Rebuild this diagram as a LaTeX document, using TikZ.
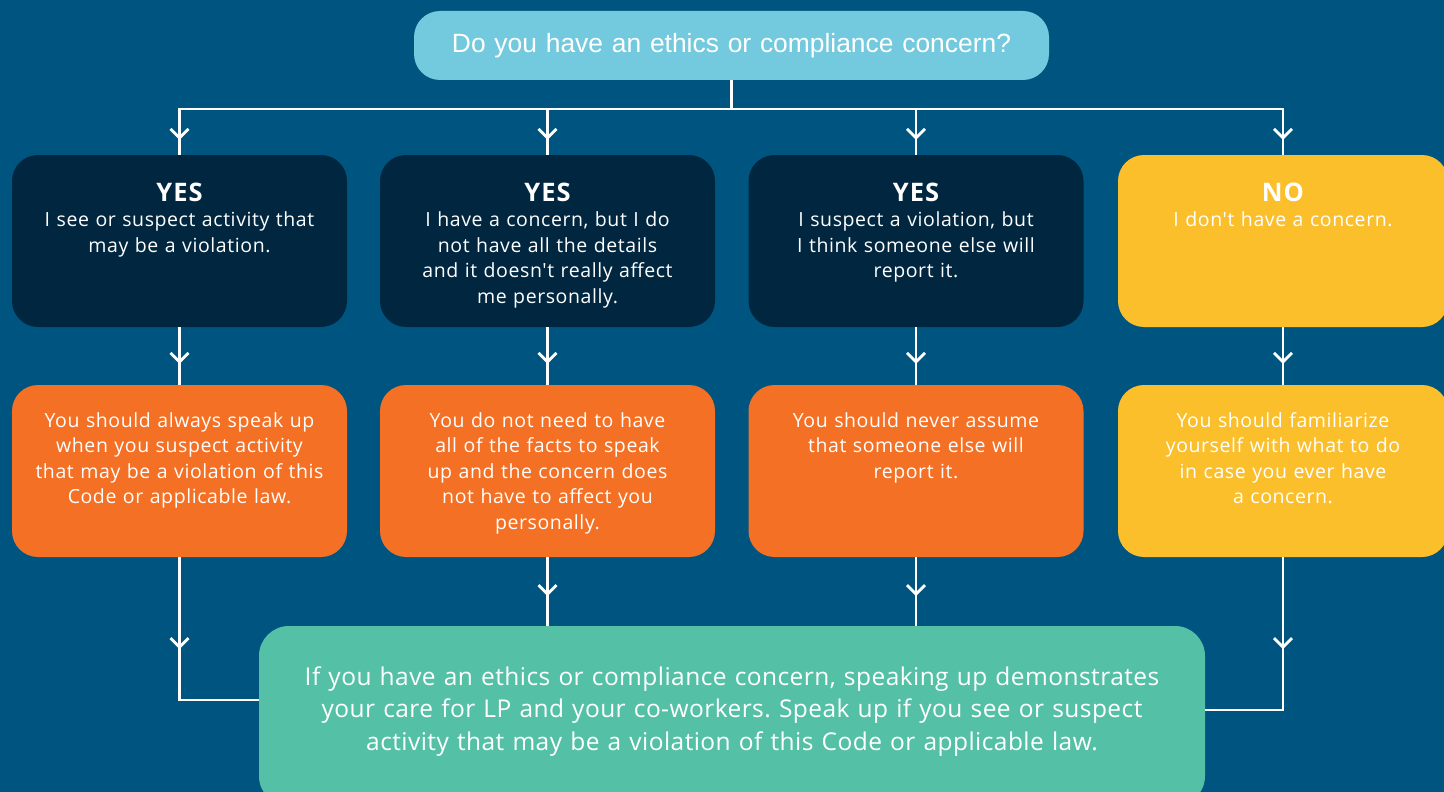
\documentclass[tikz,border=0pt]{standalone}
\usepackage{fontspec}
\setmainfont{Open Sans}[Ligatures=TeXOff]
\newfontfamily\topfont{Liberation Sans}[Ligatures=TeXOff]
\definecolor{bg}{RGB}{0,85,128}
\definecolor{navy}{RGB}{0,39,63}
\definecolor{lblue}{RGB}{115,201,221}
\definecolor{orng}{RGB}{244,112,36}
\definecolor{yell}{RGB}{251,191,44}
\definecolor{grn}{RGB}{84,193,166}
\newcommand\rowfont{\frenchspacing\fontsize{19.5}{25.6}\selectfont\addfontfeatures{LetterSpace=3}}
\newcommand\headfont{\fontsize{25.5}{26}\selectfont\bfseries\addfontfeatures{LetterSpace=4}}
\newcommand\finfont{\frenchspacing\fontsize{24.5}{32.5}\selectfont\addfontfeatures{LetterSpace=1.8}}
\begin{document}
\begin{tikzpicture}[x=1pt,y=-1pt,
  box/.style={rounded corners=26pt, minimum width=335pt, minimum height=172pt, inner sep=0pt, draw=none},
  conn/.style={white, line width=2.8pt},
  txt/.style={text=white, text width=330pt, align=center, anchor=base, inner sep=0pt, font=\rowfont},
  chev/.pic={\draw[conn] (-9,-9) -- (0,0) -- (9,-9);}]
\useasboundingbox (0,0) rectangle (1444,792);
\fill[bg] (0,0) rectangle (1444,792);
\coordinate (bus) at (0,109);
\coordinate (j1) at (259,700);
\coordinate (j4) at (1205,710);
% boxes
\node[box, fill=lblue, minimum width=635pt, minimum height=69pt] (q) at (731.5,45.5) {};
\node[box, fill=navy] (a1) at (179.5,241) {};
\node[box, fill=navy] (a2) at (547.5,241) {};
\node[box, fill=navy] (a3) at (916,241) {};
\node[box, fill=yell, minimum width=330pt] (a4) at (1283,241) {};
\node[box, fill=orng] (b1) at (179.5,471) {};
\node[box, fill=orng] (b2) at (547.5,471) {};
\node[box, fill=orng] (b3) at (916,471) {};
\node[box, fill=yell, minimum width=330pt] (b4) at (1283,471) {};
\node[box, fill=grn, rounded corners=30pt, minimum width=946pt, minimum height=180pt] (fin) at (732,716) {};
% connectors
\foreach \i in {1,2,3,4}{
  \draw[conn] (q.south) -- (q.south |- bus) -| (a\i.north);
  \draw[conn] (a\i.south) -- (b\i.north);
  \path (a\i.north) ++(0,-17) pic {chev};
  \path (b\i.north) ++(0,-23) pic {chev};
}
\draw[conn] (b2.south) -- (b2.south |- fin.north);
\draw[conn] (b3.south) -- (b3.south |- fin.north);
\draw[conn] (b1.south) |- (j1);
\draw[conn] (b4.south) |- (j4);
\path (b2.south) ++(0,37) pic {chev};
\path (b3.south) ++(0,37) pic {chev};
\path (b1.south) ++(0,90) pic {chev};
\path (b4.south) ++(0,90) pic {chev};
% texts
\node[txt, font=\topfont\fontsize{26.4}{30}\selectfont, text width=620pt] (qt) at (731.5,52.7) {Do you have an ethics or compliance concern?};
\node[txt] (ta1) at (179.5,201) {{\headfont YES}\\I see or suspect activity that\\may be a violation.};
\node[txt] (ta2) at (547.5,201) {{\headfont YES}\\I have a concern, but I do\\not have all the details\\and it doesn't really affect\\me personally.};
\node[txt] (ta3) at (916,201) {{\headfont YES}\\I suspect a violation, but\\I think someone else will\\report it.};
\node[txt] (ta4) at (1283,201) {{\headfont NO}\\I don't have a concern.};
\node[txt] (tb1) at (179.5,427) {You should always speak up\\when you suspect activity\\that may be a violation of this\\Code or applicable law.};
\node[txt] (tb2) at (547.5,427) {You do not need to have\\all of the facts to speak\\up and the concern does\\not have to affect you\\personally.};
\node[txt] (tb3) at (916,427) {You should never assume\\that someone else will\\report it.};
\node[txt] (tb4) at (1283,427) {You should familiarize\\yourself with what to do\\in case you ever have\\a concern.};
\node[txt, font=\finfont, text width=940pt] (ft) at (732,685) {If you have an ethics or compliance concern, speaking up demonstrates\\your care for LP and your co-workers. Speak up if you see or suspect\\activity that may be a violation of this Code or applicable law.};
\end{tikzpicture}
\end{document}
